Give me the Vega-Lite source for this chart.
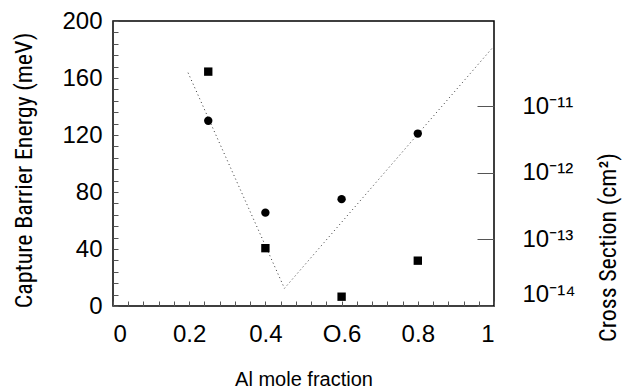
{
  "$schema": "https://vega.github.io/schema/vega-lite/v6.json",
  "width": 381,
  "height": 285,
  "autosize": {"type": "none"},
  "padding": {"left": 113, "top": 21, "right": 139, "bottom": 86},
  "background": "white",
  "config": {
    "view": {"stroke": "black", "strokeWidth": 1.5},
    "font": "Liberation Sans",
    "axis": {"grid": false, "domain": false, "labelColor": "black", "titleColor": "black", "tickColor": "#555", "tickWidth": 1, "labelFont": "Liberation Sans", "titleFont": "Roboto Condensed, DejaVu Sans Condensed, Liberation Sans Narrow, Arial Narrow, Liberation Sans", "titleFontWeight": "normal", "labelOverlap": false}
  },
  "datasets": {
    "curve": [
      {"x": 0.197, "e": 163.7},
      {"x": 0.45, "e": 12.4},
      {"x": 0.997, "e": 181.5}
    ],
    "circles": [
      {"x": 0.25, "e": 130},
      {"x": 0.4, "e": 65.5},
      {"x": 0.6, "e": 75},
      {"x": 0.8, "e": 121}
    ],
    "squares": [
      {"x": 0.25, "cs": 3.33e-11},
      {"x": 0.4, "cs": 7.4e-14},
      {"x": 0.6, "cs": 1.38e-14},
      {"x": 0.8, "cs": 4.8e-14}
    ]
  },
  "encoding": {
    "x": {
      "field": "x", "type": "quantitative",
      "scale": {"domain": [0, 1], "nice": false, "zero": false},
      "axis": {
        "values": [0, 0.04, 0.08, 0.12, 0.16, 0.2, 0.24, 0.28, 0.32, 0.36, 0.4, 0.44, 0.48, 0.52, 0.56, 0.6, 0.64, 0.68, 0.72, 0.76, 0.8, 0.84, 0.88, 0.92, 0.96, 1],
        "labelExpr": "abs(datum.value*5 - round(datum.value*5)) < 0.001 ? (abs(datum.value-0.6) < 0.001 ? 'O.6' : format(datum.value, '~g')) : ''",
        "labelOverlap": false,
        "labelFontSize": 24,
        "offset": -5,
        "tickSize": 5,
        "labelPadding": 16,
        "title": "Al mole fraction",
        "titleFont": "Liberation Sans",
        "titleFontSize": 20,
        "titlePadding": 23
      }
    }
  },
  "resolve": {"scale": {"y": "independent"}, "axis": {"y": "independent"}},
  "layer": [
    {
      "data": {"name": "curve"},
      "mark": {"type": "line", "color": "#333", "strokeWidth": 1, "strokeDash": [1, 3]},
      "encoding": {
        "y": {
          "field": "e", "type": "quantitative",
          "scale": {"domain": [0, 200], "nice": false},
          "axis": {
            "orient": "left",
            "values": [0, 8, 16, 24, 32, 40, 48, 56, 64, 72, 80, 88, 96, 104, 112, 120, 128, 136, 144, 152, 160, 168, 176, 184, 192, 200],
            "labelExpr": "datum.value % 40 === 0 ? format(datum.value, 'd') : ''",
            "labelOverlap": false,
            "labelFontSize": 24,
            "offset": -5,
            "tickSize": 5,
            "labelPadding": 11,
            "title": "Capture Barrier Energy  (meV)",
            "titleFontSize": 24,
            "titleAngle": -90,
            "titleAlign": "center",
            "titleBaseline": "middle",
            "titleX": -94,
            "titleY": 149
          }
        }
      }
    },
    {
      "data": {"name": "circles"},
      "mark": {"type": "point", "shape": "circle", "filled": true, "color": "black", "opacity": 1, "size": 70},
      "encoding": {
        "y": {"field": "e", "type": "quantitative", "scale": {"domain": [0, 200], "nice": false}, "axis": null}
      }
    },
    {
      "data": {"name": "squares"},
      "mark": {"type": "point", "shape": "square", "filled": true, "color": "black", "opacity": 1, "size": 70},
      "encoding": {
        "y": {
          "field": "cs", "type": "quantitative",
          "scale": {"type": "log", "domain": [1e-14, 1.92e-10], "nice": false},
          "axis": {
            "orient": "right",
            "values": [1e-14, 1e-13, 1e-12, 1e-11],
            "labelExpr": "'10' + (datum.value < 5e-14 ? '⁻¹⁴' : datum.value < 5e-13 ? '⁻¹³' : datum.value < 5e-12 ? '⁻¹²' : '⁻¹¹')",
            "labelFontSize": 24,
            "labelFlush": true,
            "offset": -17,
            "tickSize": 17,
            "labelPadding": 28,
            "title": "Cross Section  (cm²)",
            "titleFontSize": 24,
            "titleAngle": -90,
            "titleAlign": "center",
            "titleBaseline": "middle",
            "titleX": 131,
            "titleY": 226
          }
        }
      }
    }
  ]
}
